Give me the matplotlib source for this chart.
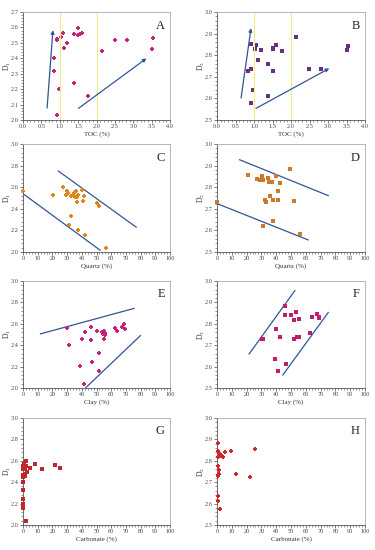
import matplotlib
matplotlib.use('Agg')
import matplotlib.pyplot as plt
from matplotlib.ticker import MultipleLocator

plt.rcParams['font.family'] = ['Liberation Serif', 'DejaVu Serif']
plt.rcParams['mathtext.fontset'] = 'stix'

# panel A: TOC vs D1
toc_a = [0.92, 0.84, 0.85, 0.97, 0.93, 0.92, 1.04, 1.08, 1.12, 1.19, 1.38, 1.40, 1.50,
         1.51, 1.55, 1.60, 1.78, 2.16, 2.51, 2.84, 3.51, 3.55]
d1_a = [2.035, 2.40, 2.32, 2.20, 2.525, 2.52, 2.54, 2.566, 2.467, 2.497, 2.242, 2.56, 2.596,
        2.55, 2.56, 2.566, 2.155, 2.445, 2.52, 2.52, 2.458, 2.534]

# panel B: TOC vs D2
toc_b = [0.92, 1.06, 1.04, 1.19, 1.50, 1.50, 1.59, 1.77, 2.14, 1.12, 1.39, 1.51, 0.85,
         0.92, 2.49, 2.82, 3.50, 3.53, 0.97, 1.38, 0.92]
d2_b = [2.854, 2.849, 2.830, 2.822, 2.835, 2.829, 2.849, 2.818, 2.885, 2.779, 2.757, 2.727,
        2.729, 2.738, 2.738, 2.738, 2.824, 2.841, 2.637, 2.612, 2.578]

# panel C: quartz vs D1
quartz_c = [0, 20.5, 26.9, 29.7, 30.4, 29.5, 32.6, 33.8, 34.7, 36.1, 35.4, 36.5, 37.4, 36.8,
            40.4, 41.6, 41.1, 50.0, 52.0, 32.9, 31.3, 37.4, 42.5, 56.8]
d1_c = [2.562, 2.528, 2.60, 2.569, 2.55, 2.53, 2.522, 2.53, 2.55, 2.562, 2.506, 2.51, 2.525,
        2.462, 2.57, 2.516, 2.47, 2.45, 2.43, 2.33, 2.247, 2.203, 2.16, 2.034]

# panel D: quartz vs D2
quartz_d = [0, 21, 27.3, 29.1, 30.2, 30.9, 34.5, 35.4, 37.2, 40.2, 42.4, 49.4, 40.9, 36.1,
            32.7, 33.0, 37.5, 41.5, 51.9, 37.7, 31.4, 56.4]
d2_d = [2.731, 2.856, 2.838, 2.833, 2.852, 2.833, 2.843, 2.826, 2.826, 2.852, 2.821, 2.886,
        2.782, 2.761, 2.741, 2.731, 2.741, 2.741, 2.735, 2.642, 2.619, 2.583]

# panel E: clay vs D1
clay_e = [30.1, 31.1, 40.0, 42.5, 46.1, 46.1, 50.5, 53.7, 54.6, 54.8, 55.7, 55.3, 55.5, 62.3,
          63.7, 67.6, 68.5, 69.4, 38.8, 47.0, 51.8, 51.4, 41.3]
d1_e = [2.559, 2.40, 2.462, 2.52, 2.566, 2.447, 2.537, 2.525, 2.506, 2.53, 2.497, 2.462, 2.516,
        2.559, 2.537, 2.566, 2.594, 2.553, 2.203, 2.244, 2.325, 2.159, 2.034]

# panel F: clay vs D2
clay_f = [30.2, 31.4, 40.2, 42.7, 46.0, 46.0, 50.3, 51.7, 53.7, 55.3, 54.0, 55.5, 51.9, 62.5,
          64.3, 67.5, 68.6, 69.1, 39.1, 46.7, 41.5]
d2_f = [2.727, 2.73, 2.778, 2.737, 2.84, 2.881, 2.84, 2.819, 2.853, 2.823, 2.737, 2.737, 2.727,
        2.756, 2.83, 2.848, 2.834, 2.828, 2.636, 2.612, 2.578]

# panel G: carbonate vs D1
carb_g = [0, 0, 0, 0, 0, 0, 0, 0, 0, 0.7, 1.1, 1.8, 2.0, 1.6, 2.7, 5.0, 8.4, 12.8, 21.9, 25.1,
          1.8, 1.4]
d1_g = [2.403, 2.45, 2.466, 2.525, 2.553, 2.325, 2.244, 2.20, 2.156, 2.572, 2.53, 2.594, 2.547,
        2.462, 2.50, 2.537, 2.569, 2.519, 2.559, 2.531, 2.034, 2.475]

# panel H: carbonate vs D2
carb_h = [0.5, 0.7, 0.5, 1.6, 3.0, 3.8, 2.3, 5.6, 9.3, 25.5, 0.5, 1.4, 0.9, 1.6, 0.5, 13.1,
          22.3, 0.5, 0.5, 2.3]
d2_h = [2.883, 2.848, 2.82, 2.836, 2.827, 2.82, 2.822, 2.839, 2.848, 2.853, 2.778, 2.756, 2.733,
        2.739, 2.727, 2.738, 2.725, 2.636, 2.612, 2.577]

# trend lines / arrows  (x0, y0, x1, y1)
arrows_a = [(0.65, 2.06, 0.82, 2.60), (1.45, 2.065, 3.42, 2.41)]
arrows_b = [(0.64, 2.589, 0.93, 2.938), (0.99, 2.548, 3.10, 2.745)]
lines_c = [(24, 2.75, 77, 2.23), (0, 2.54, 52.5, 2.016)]
lines_d = [(15.3, 2.927, 75.2, 2.761), (0, 2.724, 61.6, 2.556)]
lines_e = [(11.9, 2.506, 75.6, 2.744), (42.5, 2.0, 79.9, 2.49)]
lines_f = [(21.7, 2.659, 52.6, 2.955), (44.5, 2.561, 75.2, 2.853)]

W, H = 375, 550
fig = plt.figure(figsize=(W / 100, H / 100), dpi=100)

cols = [(23, 170), (217, 365)]
rows = [(12, 120), (144, 252), (281, 388), (418, 525)]


def make_ax(r, c):
    x0, x1 = cols[c]
    y0, y1 = rows[r]
    ax = fig.add_axes([x0 / W, 1 - y1 / H, (x1 - x0) / W, (y1 - y0) / H])
    for s in ['top', 'right']:
        ax.spines[s].set_color('#aaaaaa')
    for s in ['left', 'bottom']:
        ax.spines[s].set_color('#555555')
    for s in ax.spines.values():
        s.set_linewidth(0.6)
    ax.tick_params(labelsize=4.5, length=2, width=0.5, pad=1, colors='#444444')
    ax.tick_params(which='minor', length=1.2, width=0.4, colors='#444444')
    ax.tick_params(top=False, right=False)
    return ax


blue = '#2f5597'
yellow = '#f3e98a'


def finish(ax, xlabel, ylabel, letter):
    ax.set_xlabel(xlabel, fontsize=5, labelpad=1.5, color='#333333')
    ax.set_ylabel(ylabel, fontsize=5.5, color='#333333')
    ax.yaxis.set_label_coords(-0.07, 0.5)
    ax.text(0.965, 0.93, letter, transform=ax.transAxes, ha='right', va='top',
            fontsize=9, color='#222222')


# A
ax = make_ax(0, 0)
ax.axvline(1.0, color=yellow, lw=0.8)
ax.axvline(2.0, color=yellow, lw=0.8)
for x0, y0, x1, y1 in arrows_a:
    ax.annotate('', xy=(x1, y1), xytext=(x0, y0),
                arrowprops=dict(arrowstyle='-|>', color=blue, lw=0.9, mutation_scale=5))
ax.scatter(toc_a, d1_a, marker='P', s=12, color='#c2237a', lw=0)
ax.set_xlim(0, 4.0)
ax.set_ylim(2.0, 2.7)
ax.xaxis.set_major_locator(MultipleLocator(0.5))
ax.xaxis.set_minor_locator(MultipleLocator(0.1))
ax.yaxis.set_major_locator(MultipleLocator(0.1))
ax.yaxis.set_minor_locator(MultipleLocator(0.02))
ax.set_xticklabels([f'{v:.1f}' for v in ax.get_xticks()])
ax.set_yticklabels([f'{v:.1f}' for v in ax.get_yticks()])
finish(ax, 'TOC (%)', 'D$_1$', 'A')

# B
ax = make_ax(0, 1)
ax.axvline(1.0, color=yellow, lw=0.8)
ax.axvline(2.0, color=yellow, lw=0.8)
for x0, y0, x1, y1 in arrows_b:
    ax.annotate('', xy=(x1, y1), xytext=(x0, y0),
                arrowprops=dict(arrowstyle='-|>', color=blue, lw=0.9, mutation_scale=5))
ax.scatter(toc_b, d2_b, marker='s', s=9, color='#6b2f7f', lw=0)
ax.set_xlim(0, 4.0)
ax.set_ylim(2.5, 3.0)
ax.xaxis.set_major_locator(MultipleLocator(0.5))
ax.xaxis.set_minor_locator(MultipleLocator(0.1))
ax.yaxis.set_major_locator(MultipleLocator(0.1))
ax.yaxis.set_minor_locator(MultipleLocator(0.02))
ax.set_xticklabels([f'{v:.1f}' for v in ax.get_xticks()])
ax.set_yticklabels([f'{v:.1f}' for v in ax.get_yticks()])
finish(ax, 'TOC (%)', 'D$_2$', 'B')

panels = [
    (1, 0, quartz_c, d1_c, lines_c, 'P', '#e0841c', 'Quartz (%)', 'D$_1$', 'C', (2.0, 3.0), 0.2),
    (1, 1, quartz_d, d2_d, lines_d, 's', '#d0782a', 'Quartz (%)', 'D$_2$', 'D', (2.5, 3.0), 0.1),
    (2, 0, clay_e, d1_e, lines_e, 'P', '#c8237a', 'Clay (%)', 'D$_1$', 'E', (2.0, 3.0), 0.2),
    (2, 1, clay_f, d2_f, lines_f, 's', '#c01e6b', 'Clay (%)', 'D$_2$', 'F', (2.5, 3.0), 0.1),
    (3, 0, carb_g, d1_g, [], 's', '#c0262e', 'Carbonate (%)', 'D$_1$', 'G', (2.0, 3.0), 0.2),
    (3, 1, carb_h, d2_h, [], 'P', '#d0262a', 'Carbonate (%)', 'D$_2$', 'H', (2.5, 3.0), 0.1),
]

for r, c, xs, ys, lines, mk, col, xl, yl, letter, ylim, ystep in panels:
    ax = make_ax(r, c)
    for x0, y0, x1, y1 in lines:
        ax.plot([x0, x1], [y0, y1], color=blue, lw=0.9)
    ax.scatter(xs, ys, marker=mk, s=12 if mk == 'P' else 9, color=col, lw=0,
               clip_on=False, zorder=3)
    ax.set_xlim(0, 100)
    ax.set_ylim(*ylim)
    ax.xaxis.set_major_locator(MultipleLocator(10))
    ax.xaxis.set_minor_locator(MultipleLocator(2))
    ax.yaxis.set_major_locator(MultipleLocator(ystep))
    ax.yaxis.set_minor_locator(MultipleLocator(ystep / 5))
    ax.set_yticklabels([f'{v:.1f}' for v in ax.get_yticks()])
    finish(ax, xl, yl, letter)

fig.savefig('out.png', dpi=100)
